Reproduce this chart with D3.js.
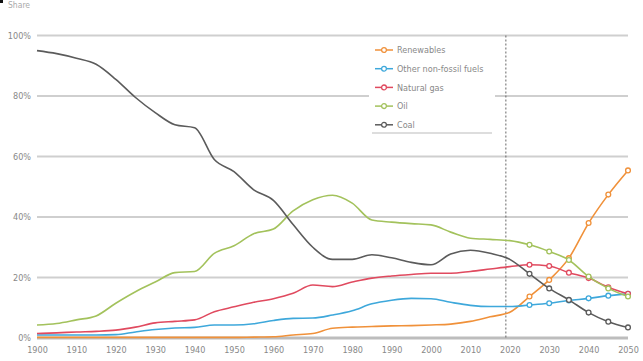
<!DOCTYPE html>
<html>
<head>
<meta charset="utf-8">
<script src="https://cdn.jsdelivr.net/npm/d3@7"></script>
<style>
  html, body { margin: 0; padding: 0; background: #fff; }
  svg { display: block; }
  text { font-family: "Liberation Sans Narrow", "DejaVu Sans Condensed", "Arial Narrow", "Liberation Sans", sans-serif; }
</style>
</head>
<body>
<svg id="chart" width="643" height="361"></svg>
<script>
// Share of primary energy by source, history and outlook (%)
const years = [1900, 1905, 1910, 1915, 1920, 1925, 1930, 1935, 1940, 1945, 1950, 1955, 1960,
               1965, 1970, 1975, 1980, 1985, 1990, 1995, 2000, 2005, 2010, 2015, 2020,
               2025, 2030, 2035, 2040, 2045, 2050];

const renewables = [0.2, 0.2, 0.2, 0.2, 0.2, 0.2, 0.2, 0.2, 0.2, 0.2, 0.2, 0.3, 0.4,
                    1.0, 1.5, 3.2, 3.6, 3.8, 4.0, 4.1, 4.3, 4.6, 5.5, 7.0, 8.5,
                    13.7, 19.2, 26.4, 38.0, 47.4, 55.4];
const otherNonFossil = [1.0, 1.0, 1.0, 1.0, 1.1, 2.0, 2.8, 3.3, 3.5, 4.3, 4.3, 4.7, 5.8,
                        6.5, 6.6, 7.6, 9.0, 11.3, 12.5, 13.1, 13.0, 11.8, 10.8, 10.4, 10.4,
                        10.9, 11.5, 12.4, 13.1, 14.0, 14.6];
const naturalGas = [1.5, 1.7, 2.0, 2.2, 2.6, 3.6, 5.0, 5.5, 6.0, 8.7, 10.3, 11.8, 13.0,
                    14.8, 17.5, 17.0, 18.5, 19.8, 20.5, 21.0, 21.4, 21.4, 22.0, 22.8, 23.6,
                    24.2, 23.8, 21.6, 19.8, 16.8, 14.6];
const oil = [4.3, 4.8, 6.0, 7.3, 11.5, 15.3, 18.5, 21.6, 22.0, 28.0, 30.5, 34.5, 36.0,
             42.0, 45.7, 47.2, 44.6, 39.0, 38.3, 37.8, 37.4, 35.0, 33.0, 32.6, 32.2,
             30.8, 28.6, 25.8, 20.3, 16.4, 13.7];
const coal = [95.0, 94.0, 92.5, 90.5, 85.5, 79.5, 74.5, 70.5, 69.5, 59.0, 55.0, 49.0, 45.5,
              37.5, 30.0, 26.0, 26.0, 27.5, 26.5, 25.0, 24.2, 27.8, 29.0, 28.0, 26.0,
              21.2, 16.4, 12.6, 8.4, 5.4, 3.5];

const seriesNames = ["Renewables", "Other non-fossil fuels", "Natural gas", "Oil", "Coal"];
const seriesColors = ["#f0913a", "#3ea8db", "#e04a5f", "#a3c25c", "#5b5b5b"];
const seriesValues = [renewables, otherNonFossil, naturalGas, oil, coal];

const xTicks = [1900, 1910, 1920, 1930, 1940, 1950, 1960, 1970, 1980, 1990, 2000, 2010, 2020, 2030, 2040, 2050];
const yTicks = [0, 20, 40, 60, 80, 100];
const outlookStart = 2019;   // first year of the outlook period
const lastHistoric = 2020;   // points after this year carry markers

const svg = d3.select("#chart");

const x = d3.scaleLinear().domain([1900, 2050]).range([37, 628]);
const y = d3.scaleLinear().domain([0, 100]).range([338, 35.5]);

// small mark in the corner
svg.append("rect").attr("x", 0).attr("y", 0).attr("width", 3).attr("height", 3).attr("fill", "#111");

// axis title
svg.append("text")
  .attr("x", 8).attr("y", 8)
  .attr("font-size", 8.5)
  .attr("fill", "#aaa")
  .text("Share");

// horizontal gridlines
svg.append("g")
  .selectAll("line")
  .data(yTicks.filter(d => d > 0))
  .join("line")
  .attr("x1", x(1900)).attr("x2", x(2050))
  .attr("y1", d => y(d)).attr("y2", d => y(d))
  .attr("stroke", "#cfcfcf")
  .attr("stroke-width", 1.8);

// baseline
svg.append("line")
  .attr("x1", x(1900)).attr("x2", x(2050))
  .attr("y1", y(0)).attr("y2", y(0))
  .attr("stroke", "#bdbdbd")
  .attr("stroke-width", 3);

// y axis labels
const yAxis = d3.axisLeft(y)
  .tickValues(yTicks)
  .tickFormat(d => d + "%")
  .tickSize(0)
  .tickPadding(5);
const gy = svg.append("g").attr("transform", `translate(${x(1900) - 1},0)`).call(yAxis);
gy.select(".domain").remove();
gy.selectAll("text").attr("font-size", 9).attr("fill", "#888").style("font-family", null);

// x axis labels
const xAxis = d3.axisBottom(x)
  .tickValues(xTicks)
  .tickFormat(d3.format("d"))
  .tickSize(0)
  .tickPadding(9);
const gx = svg.append("g").attr("transform", `translate(0,${y(0)})`).call(xAxis);
gx.select(".domain").remove();
gx.selectAll("text").attr("font-size", 9).attr("fill", "#888").style("font-family", null);

// outlook divider
svg.append("line")
  .attr("x1", x(outlookStart)).attr("x2", x(outlookStart))
  .attr("y1", y(100)).attr("y2", y(0))
  .attr("stroke", "#666")
  .attr("stroke-width", 1)
  .attr("stroke-dasharray", "2,2");

// series lines
const line = d3.line()
  .x(d => x(d.year))
  .y(d => y(d.value))
  .curve(d3.curveMonotoneX);

const series = seriesNames.map((name, i) => ({
  name,
  color: seriesColors[i],
  points: years.map((yr, j) => ({ year: yr, value: seriesValues[i][j] }))
}));

const gSeries = svg.append("g")
  .selectAll("g")
  .data(series)
  .join("g");

gSeries.append("path")
  .attr("d", d => line(d.points))
  .attr("fill", "none")
  .attr("stroke", d => d.color)
  .attr("stroke-width", 1.6)
  .attr("stroke-linejoin", "round");

gSeries.each(function (s) {
  d3.select(this).selectAll("circle")
    .data(s.points.filter(p => p.year > lastHistoric))
    .join("circle")
    .attr("cx", p => x(p.year))
    .attr("cy", p => y(p.value))
    .attr("r", 2.4)
    .attr("fill", "#fff")
    .attr("stroke", s.color)
    .attr("stroke-width", 1.3);
});

// legend
const legend = svg.append("g").attr("transform", "translate(369,39)");
legend.append("rect")
  .attr("x", 0).attr("y", 0)
  .attr("width", 126).attr("height", 94)
  .attr("fill", "#fff");
legend.append("line")
  .attr("x1", 3).attr("x2", 123)
  .attr("y1", 94).attr("y2", 94)
  .attr("stroke", "#bbb")
  .attr("stroke-width", 1.2);

const items = legend.selectAll("g.item")
  .data(series)
  .join("g")
  .attr("class", "item")
  .attr("transform", (d, i) => `translate(0,${11 + i * 18.7})`);
items.append("line")
  .attr("x1", 6).attr("x2", 24)
  .attr("y1", 0).attr("y2", 0)
  .attr("stroke", d => d.color)
  .attr("stroke-width", 1.5);
items.append("circle")
  .attr("cx", 15).attr("cy", 0).attr("r", 2.4)
  .attr("fill", "#fff")
  .attr("stroke", d => d.color)
  .attr("stroke-width", 1.3);
items.append("text")
  .attr("x", 28).attr("y", 0).attr("dy", "0.35em")
  .attr("font-size", 9)
  .attr("fill", "#888")
  .text(d => d.name);
</script>
</body>
</html>
